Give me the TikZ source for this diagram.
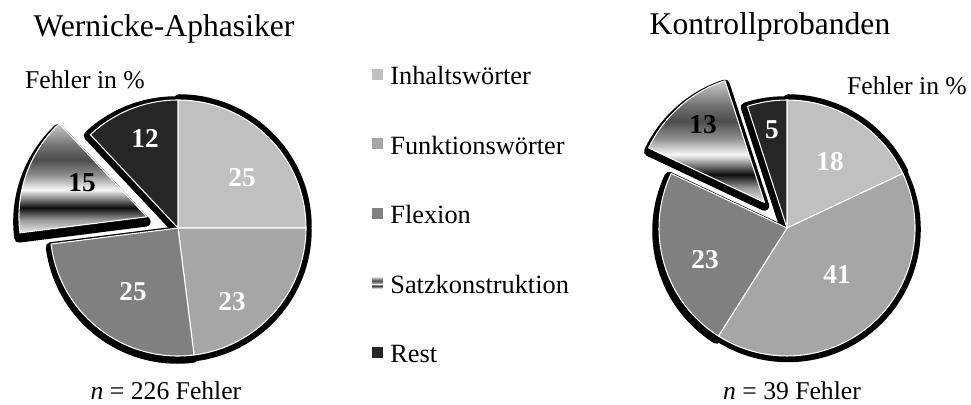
\documentclass[tikz,border=0pt]{standalone}
\usepackage{fontspec}
\setmainfont{Liberation Serif}
\usetikzlibrary{positioning}

\definecolor{inhalt}{HTML}{C0C0C0}
\definecolor{funktion}{HTML}{A6A6A6}
\definecolor{flexion}{HTML}{808080}
\definecolor{rest}{HTML}{262626}

\pgfdeclareverticalshading{satzshade}{100bp}{color(0bp)=(black!8); color(25bp)=(black!8);
  color(31bp)=(black!40); color(36.5bp)=(black!95); color(40bp)=(black!55);
  color(44.7bp)=(black!3); color(51.6bp)=(black!45); color(58.5bp)=(black!70);
  color(65bp)=(black!55); color(75bp)=(black!20); color(100bp)=(black!20)}

\tikzset{stueck/.style={draw=white,line width=0.6pt,line join=round},
  schatten/.style={fill=black,draw=black,line width=0.19cm,line join=round},
  zahl/.style={font=\fontsize{15.5}{18}\selectfont\bfseries,text=white,inner sep=0pt},
  titel/.style={font=\fontsize{18}{22}\selectfont,anchor=base,inner sep=0pt},
  notiz/.style={font=\fontsize{14.6}{18}\selectfont,anchor=base,inner sep=0pt},
  legtext/.style={font=\fontsize{15}{18}\selectfont,anchor=base west,inner sep=0pt},
  legbox/.style={minimum size=0.22cm,inner sep=0pt},}

\begin{document}
\begin{tikzpicture}[x=0.02cm,y=0.02cm]
  \useasboundingbox (0,0) rectangle (971,405);

  % linke Torte
  \begin{scope}[shift={(178,177)}]
    \foreach \a/\b/\dx/\dy in {90/0/1/1, 0/-82.8/1/-1.5, -82.8/-172.8/-0.5/-3, 133.2/90/-2/-1}
      \filldraw[schatten,shift={(\dx,\dy)}] (0,0) -- (\a:128) arc[start angle=\a,end angle=\b,radius=128] -- cycle;
    \filldraw[schatten,shift={(160.2:33)},shift={(-1,-5)}] (0,0) -- (187.2:128) arc[start angle=187.2,end angle=133.2,radius=128] -- cycle;
    \foreach \a/\b/\f in {90/0/inhalt, 0/-82.8/funktion, -82.8/-172.8/flexion, 133.2/90/rest}
      \filldraw[stueck,fill=\f] (0,0) -- (\a:128) arc[start angle=\a,end angle=\b,radius=128] -- cycle;
    \shadedraw[stueck,shading=satzshade,shift={(160.2:33)}] (0,0) -- (187.2:128) arc[start angle=187.2,end angle=133.2,radius=128] -- cycle;
  \end{scope}
  \node[zahl] (wInhalt) at (242,227) {25};
  \node[zahl] (wFunktion) at (232,103) {23};
  \node[zahl] (wFlexion) at (133,113) {25};
  \node[zahl,text=black] (wSatz) at (82,222) {15};
  \node[zahl] (wRest) at (145,267) {12};

  % rechte Torte
  \begin{scope}[shift={(787,177)}]
    \foreach \a/\b/\dx/\dy in {90/25.2/1/1, 25.2/-122.4/1/-1.5, -122.4/-205.2/-2/-3, 108/90/-2/-1}
      \filldraw[schatten,shift={(\dx,\dy)}] (0,0) -- (\a:128) arc[start angle=\a,end angle=\b,radius=128] -- cycle;
    \filldraw[schatten,shift={(131.4:34)},shift={(0,-3.5)}] (0,0) -- (154.8:128) arc[start angle=154.8,end angle=108,radius=128] -- cycle;
    \foreach \a/\b/\f in {90/25.2/inhalt, 25.2/-122.4/funktion, -122.4/-205.2/flexion, 108/90/rest}
      \filldraw[stueck,fill=\f] (0,0) -- (\a:128) arc[start angle=\a,end angle=\b,radius=128] -- cycle;
    \shadedraw[stueck,shading=satzshade,shift={(131.4:34)}] (0,0) -- (154.8:128) arc[start angle=154.8,end angle=108,radius=128] -- cycle;
  \end{scope}
  \node[zahl] (kInhalt) at (830,243) {18};
  \node[zahl] (kFunktion) at (837,130) {41};
  \node[zahl] (kFlexion) at (705,145) {23};
  \node[zahl,text=black] (kSatz) at (703,280) {13};
  \node[zahl] (kRest) at (772,275) {5};

  % Beschriftung
  \node[titel] (wTitel) at (164,368) {Wernicke-Aphasiker};
  \node[titel] (kTitel) at (770,370) {Kontrollprobanden};
  \node[notiz] (wProzent) at (85,316) {Fehler in \%};
  \node[notiz] (kProzent) at (907,310) {Fehler in \%};
  \node[notiz] (wAnzahl) at (166,5) {\textit{n} = 226 Fehler};
  \node[notiz] (kAnzahl) at (792,5) {\textit{n} = 39 Fehler};

  % Legende
  \node[legtext] (l1) at (390,320) {Inhaltswörter};
  \node[legtext,below=1.39cm of l1.base west,anchor=base west] (l2) {Funktionswörter};
  \node[legtext,below=1.39cm of l2.base west,anchor=base west] (l3) {Flexion};
  \node[legtext,below=1.39cm of l3.base west,anchor=base west] (l4) {Satzkonstruktion};
  \node[legtext,below=1.39cm of l4.base west,anchor=base west] (l5) {Rest};
  \node[legbox,fill=inhalt] (b1) at ([xshift=-0.25cm,yshift=0.21cm]l1.base west) {};
  \node[legbox,fill=funktion] (b2) at ([xshift=-0.25cm,yshift=0.21cm]l2.base west) {};
  \node[legbox,fill=flexion] (b3) at ([xshift=-0.25cm,yshift=0.21cm]l3.base west) {};
  \node[legbox,shade,shading=satzshade] (b4) at ([xshift=-0.25cm,yshift=0.21cm]l4.base west) {};
  \node[legbox,fill=rest] (b5) at ([xshift=-0.25cm,yshift=0.21cm]l5.base west) {};
\end{tikzpicture}
\end{document}
